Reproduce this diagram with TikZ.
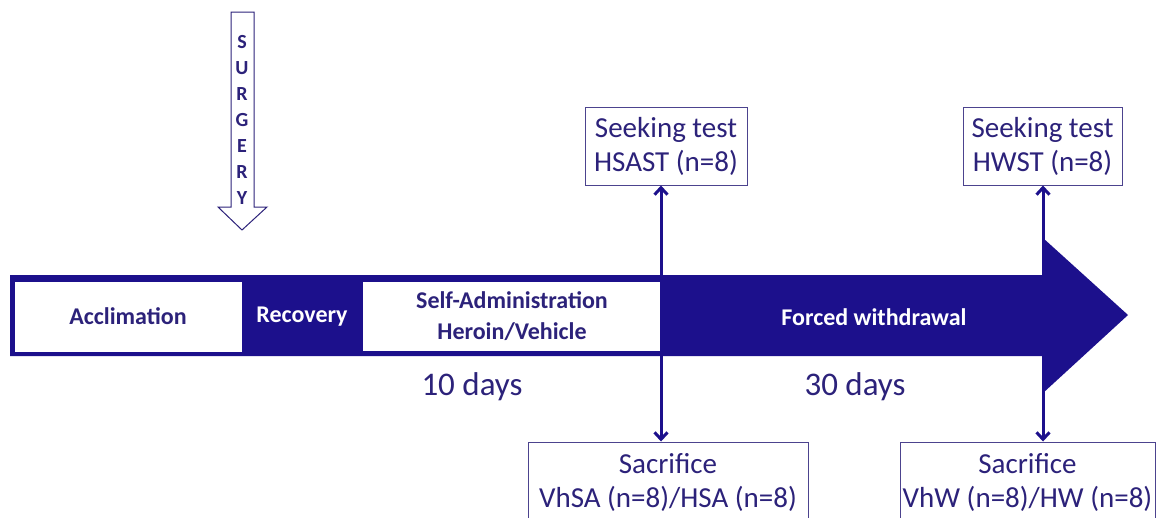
\documentclass[tikz,border=0pt]{standalone}
\usepackage{fontspec}
\setmainfont{Carlito}
\usetikzlibrary{arrows.meta}
\definecolor{navy}{RGB}{28,16,140}
\definecolor{ink}{RGB}{44,34,122}
\tikzset{
  stagebox/.style={draw=navy,line width=1pt,fill=white,text=ink,align=center,inner sep=0,
    font=\bfseries\fontsize{24}{31}\selectfont},
  stagetext/.style={text=white,font=\bfseries\fontsize{24}{31}\selectfont},
  testbox/.style={draw=ink!85,line width=1pt,fill=white,text=ink,align=center,inner sep=0,
    font=\fontsize{29}{34}\selectfont},
  timeline/.style={draw=navy,line width=3pt,
    {Straight Barb[length=7pt,width=13pt]}-{Straight Barb[length=7pt,width=13pt]}}
}
\begin{document}
\begin{tikzpicture}[x=1pt,y=-1pt]
\useasboundingbox (0,0) rectangle (1158,517);
\clip (0,0) rectangle (1158,517);
%main arrow
\fill[navy](10,275)--(1043,275)--(1043,238)--(1128,315)--(1043,393)--(1043,356)--(10,356)--cycle;
%stages
\node[stagebox,minimum width=228pt,minimum height=71pt] (accl) at (128,316.5) {Acclimation};
\node[stagetext] (recov) at (302,317) {Recovery};
\node[stagebox,minimum width=300pt,minimum height=70pt] (selfadm) at (512,316) {Self-Administration\\Heroin/Vehicle};
\node[stagetext] (forced) at (874,317) {Forced withdrawal};
%surgery
\draw[draw=ink,fill=white,line width=1pt](231,12)--(254,12)--(254,207)--(267,207)--(242,230)--(218,207)--(231,207)--cycle;
\foreach \l [count=\i] in {S,U,R,G,E,R,Y}{
\node[text=ink,font=\bfseries\fontsize{20}{20}\selectfont] (surg\i) at (242,16+26*\i) {\l};
}
%tests
\node[testbox,minimum width=162pt,minimum height=78pt] (seek1) at (666,146) {Seeking test\\HSAST (n=8)};
\node[testbox,minimum width=159pt,minimum height=78pt] (seek2) at (1042.5,146) {Seeking test\\HWST (n=8)};
\node[testbox,minimum width=280pt,minimum height=80pt] (sac1) at (668,482) {Sacrifice\\VhSA (n=8)/HSA (n=8)};
\node[testbox,minimum width=255pt,minimum height=80pt] (sac2) at (1027.5,482) {Sacrifice\\VhW (n=8)/HW (n=8)};
\coordinate (t1) at (661,0);
\coordinate (t2) at (1043,0);
\draw[timeline](seek1.south -| t1)--(sac1.north -| t1);
\draw[timeline](seek2.south -| t2)--(sac2.north -| t2);
%labels
\node[text=ink,font=\fontsize{33}{40}\selectfont] (days1) at (472,387) {10 days};
\node[text=ink,font=\fontsize{33}{40}\selectfont] (days2) at (855,387) {30 days};
\end{tikzpicture}
\end{document}
